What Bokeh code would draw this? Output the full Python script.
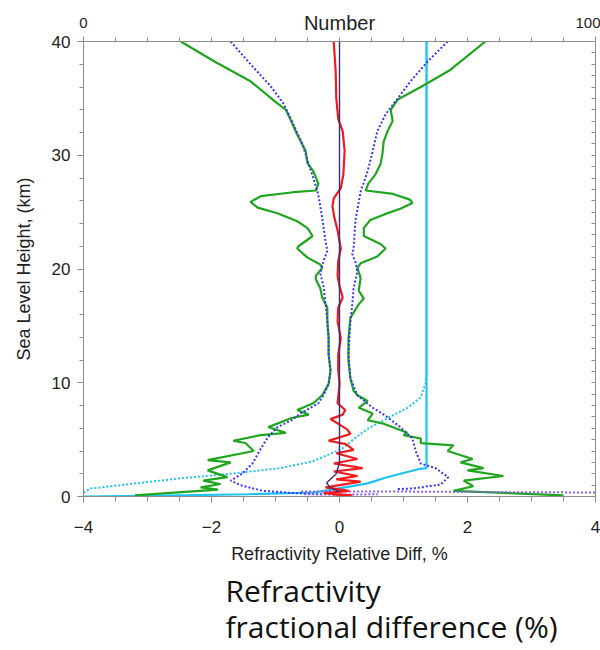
from bokeh.plotting import figure
from bokeh.models import Range1d, LinearAxis, FixedTicker, Title
from bokeh.embed import file_html
from bokeh.resources import INLINE

# ---------------- data ----------------
# Green solid, left branch (x %, height km)
green_left_x = [-2.48, -1.94, -1.39, -1.0, -0.84, -0.77, -0.66, -0.53, -0.5, -0.41, -0.33, -0.37, -0.72, -1.23, -1.39, -1.28, -0.97, -0.66, -0.5, -0.42, -0.64, -0.66, -0.5, -0.3, -0.27, -0.37, -0.37, -0.3, -0.27, -0.19, -0.19, -0.17, -0.17, -0.14, -0.17, -0.27, -0.41, -0.66, -0.48, -0.75, -1.11, -0.84, -1.23, -1.66, -1.47, -1.34, -2.06, -1.70, -2.06, -1.75, -2.13, -1.86, -2.17, -1.9, -3.2]
green_left_h = [40.0, 38.2, 36.5, 34.7, 34.0, 33.2, 31.8, 30.4, 29.3, 28.6, 27.5, 26.9, 26.75, 26.4, 25.9, 25.4, 24.9, 24.2, 23.6, 22.9, 22.0, 21.8, 21.0, 20.4, 20.1, 19.4, 19.1, 18.3, 17.5, 16.6, 15.4, 13.9, 12.5, 11.1, 9.9, 8.9, 8.2, 7.6, 7.2, 6.9, 6.1, 5.6, 5.4, 4.9, 4.7, 4.0, 3.2, 3.0, 2.3, 1.7, 1.4, 1.1, 0.8, 0.6, 0.1]

# Green solid, right branch
green_right_x = [2.28, 1.73, 1.27, 0.91, 0.8, 0.83, 0.75, 0.69, 0.67, 0.64, 0.56, 0.45, 0.41, 0.84, 1.1, 1.14, 0.95, 0.7, 0.48, 0.38, 0.38, 0.64, 0.72, 0.59, 0.33, 0.28, 0.33, 0.3, 0.38, 0.3, 0.17, 0.14, 0.14, 0.17, 0.22, 0.28, 0.44, 0.3, 0.52, 0.44, 0.69, 1.06, 1.0, 1.27, 1.27, 1.78, 1.69, 2.08, 1.89, 2.25, 2.0, 2.56, 1.94, 2.09, 1.78, 3.5]
green_right_h = [40.0, 37.5, 36.0, 34.9, 34.0, 33.0, 32.1, 31.2, 30.1, 29.2, 28.3, 27.5, 26.9, 26.6, 26.1, 25.8, 25.3, 24.8, 24.3, 23.6, 22.9, 22.2, 21.8, 21.1, 20.5, 20.1, 19.2, 18.1, 17.4, 16.9, 15.7, 13.9, 11.9, 10.4, 9.3, 8.9, 8.4, 7.8, 7.3, 6.7, 6.4, 5.6, 5.4, 5.1, 4.7, 4.5, 4.0, 3.3, 3.0, 2.5, 2.3, 1.8, 1.4, 0.9, 0.5, 0.1]

# Blue dotted, left branch
blue_left_x = [-1.7, -1.39, -1.08, -0.87, -0.72, -0.58, -0.48, -0.41, -0.33, -0.27, -0.22, -0.19, -0.25, -0.3, -0.25, -0.22, -0.19, -0.17, -0.17, -0.14, -0.17, -0.25, -0.33, -0.61, -0.75, -0.97, -1.12, -1.23, -1.36, -1.52, -1.7, -1.55, -1.2, -0.72, -0.25]
blue_left_h = [40.0, 38.0, 36.1, 34.5, 32.7, 31.0, 29.2, 28.0, 26.5, 24.5, 22.5, 21.6, 20.7, 19.6, 18.5, 17.0, 15.5, 14.0, 12.5, 11.0, 9.9, 8.9, 8.2, 7.3, 6.7, 6.1, 5.2, 4.2, 2.9, 2.0, 1.4, 1.0, 0.5, 0.3, 0.2]

# Blue dotted, right branch
blue_right_x = [1.69, 1.37, 1.11, 0.91, 0.72, 0.59, 0.52, 0.44, 0.33, 0.25, 0.22, 0.2, 0.25, 0.28, 0.22, 0.2, 0.17, 0.14, 0.17, 0.28, 0.52, 0.72, 0.95, 1.14, 1.19, 1.27, 1.5, 1.7, 1.58, 1.13, 0.9]
blue_right_h = [40.0, 38.2, 36.5, 35.0, 33.6, 32.1, 30.4, 28.6, 26.8, 24.3, 21.8, 21.3, 20.6, 19.8, 18.3, 16.9, 15.4, 12.5, 10.4, 8.9, 7.8, 7.1, 6.1, 5.1, 4.0, 2.9, 2.5, 1.7, 1.05, 0.7, 0.65]

# Violet dotted, lowest levels
violet_x = [-0.6, 0.5, 2.0, 4.0]
violet_h = [0.45, 0.45, 0.4, 0.35]
violet2_x = [-0.55, 0.0, 0.6]
violet2_h = [0.2, 0.15, 0.2]

# Red solid (mean)
red_x = [-0.09, -0.06, -0.05, -0.02, 0.05, 0.08, 0.06, 0.02, -0.09, -0.11, -0.08, -0.03, 0.02, -0.02, -0.03, 0.0, 0.05, -0.02, -0.03, 0.02, -0.02, -0.02, 0.0, -0.02, -0.03, 0.09, 0.05, -0.14, -0.05, 0.12, 0.17, 0.0, -0.17, 0.1, 0.22, -0.05, 0.28, -0.09, 0.36, -0.09, 0.28, -0.05, 0.33, 0.0, -0.22, 0.15, -0.25, 0.2, -0.1]
red_h = [40.0, 37.4, 35.0, 33.2, 32.1, 30.4, 28.3, 27.1, 26.2, 25.5, 24.5, 23.4, 21.8, 20.7, 19.4, 18.5, 17.5, 16.6, 15.4, 13.9, 12.5, 11.1, 9.9, 8.7, 8.2, 7.6, 7.2, 6.8, 6.5, 5.9, 5.5, 5.2, 4.9, 4.6, 4.1, 3.8, 3.3, 2.9, 2.5, 2.2, 1.8, 1.5, 1.3, 1.0, 0.8, 0.5, 0.3, 0.1, 0.0]

# Dark centre line (median)
dark_x = [0.0, 0.0, -0.05, -0.2, -0.15, 0.0]
dark_h = [40.0, 3.0, 2.0, 1.2, 0.8, 0.4]

# Number of profiles (top axis, 0-100)
num_solid_n = [67.0, 67.0, 65.4, 61.9, 58.6, 55.5, 51.6, 48.5, 44.9, 32.0, 12.5, 0.0]
num_solid_h = [40.0, 2.5, 2.4, 2.0, 1.6, 1.15, 0.85, 0.6, 0.35, 0.2, 0.05, 0.0]
num_dot_n = [0.0, 1.4, 9.2, 18.9, 28.7, 38.5, 44.9, 50.5, 53.5, 55.7, 59.4, 63.3, 65.8, 66.8, 67.0, 67.0]
num_dot_h = [0.35, 0.7, 1.1, 1.6, 2.0, 2.5, 3.1, 4.2, 5.3, 6.0, 6.9, 7.8, 8.7, 9.9, 11.0, 40.0]

x_ticks = [-4, -2, 0, 2, 4]
y_ticks = [0, 10, 20, 30, 40]
top_ticks = [0, 100]
caption = "Refractivity\nfractional difference (%)"

# ---------------- figure ----------------
AX = "#8c8c8c"
FONT = "Liberation Sans"

p = figure(width=600, height=650, output_backend="svg", toolbar_location=None,
           x_range=Range1d(-4, 4), y_range=Range1d(0, 40),
           min_border_left=83, min_border_right=5, min_border_top=41, min_border_bottom=154,
           x_axis_location="below", y_axis_location="left")
p.extra_x_ranges = {"num": Range1d(0, 100)}
p.grid.visible = False
p.outline_line_color = AX
p.background_fill_color = "white"
p.border_fill_color = "white"

xa = p.xaxis[0]
xa.ticker = FixedTicker(ticks=x_ticks, minor_ticks=[-4 + 0.5 * i for i in range(17)])
xa.axis_label = "Refractivity Relative Diff, %"
xa.axis_label_text_font = FONT
xa.axis_label_text_font_style = "normal"
xa.axis_label_text_font_size = "18px"
xa.axis_label_text_color = "#222222"
xa.axis_label_standoff = 8
xa.major_label_text_font = FONT
xa.major_label_text_font_size = "17px"
xa.major_label_text_color = "#222222"
xa.major_label_standoff = 18
xa.axis_line_color = AX
xa.major_tick_line_color = AX
xa.minor_tick_line_color = AX
xa.major_tick_in = 0
xa.major_tick_out = 6
xa.minor_tick_in = 0
xa.minor_tick_out = 5

ya = p.yaxis[0]
ya.ticker = FixedTicker(ticks=y_ticks, minor_ticks=list(range(0, 41, 2)))
ya.axis_label = "Sea Level Height, (km)"
ya.axis_label_text_font = FONT
ya.axis_label_text_font_style = "normal"
ya.axis_label_text_font_size = "18px"
ya.axis_label_text_color = "#222222"
ya.axis_label_standoff = 15
ya.major_label_text_font = FONT
ya.major_label_text_font_size = "17px"
ya.major_label_text_color = "#222222"
ya.major_label_standoff = 7
ya.axis_line_color = AX
ya.major_tick_line_color = AX
ya.minor_tick_line_color = AX
ya.major_tick_in = 0
ya.major_tick_out = 6
ya.minor_tick_in = 0
ya.minor_tick_out = 4

top = LinearAxis(x_range_name="num",
                 ticker=FixedTicker(ticks=top_ticks, minor_ticks=[6.25 * i for i in range(17)]))
top.axis_label = "Number"
top.axis_label_text_font = FONT
top.axis_label_text_font_style = "normal"
top.axis_label_text_font_size = "20px"
top.axis_label_text_color = "#222222"
top.axis_label_standoff = -19
top.major_label_text_font = FONT
top.major_label_text_font_size = "15px"
top.major_label_text_color = "#222222"
top.major_label_standoff = 9
top.axis_line_color = AX
top.major_tick_line_color = AX
top.minor_tick_line_color = AX
top.major_tick_in = 4
top.major_tick_out = 5
top.minor_tick_in = 0
top.minor_tick_out = 4
p.add_layout(top, "above")

right = LinearAxis(ticker=FixedTicker(ticks=[], minor_ticks=list(range(0, 41, 1))))
right.axis_line_color = AX
right.minor_tick_line_color = AX
right.minor_tick_in = 4
right.minor_tick_out = 0
right.major_label_standoff = 0
p.add_layout(right, "right")

# ---------------- lines ----------------
GREEN = "#1fa51f"
BLUE = "#3838f0"
RED = "#f21a1a"
CYAN = "#1ec3f5"

p.line(num_dot_n, num_dot_h, x_range_name="num", line_color=CYAN, line_width=2, line_dash="2 2")
p.line(num_solid_n, num_solid_h, x_range_name="num", line_color=CYAN, line_width=2.2)
p.line(green_left_x, green_left_h, line_color=GREEN, line_width=2.2)
p.line(green_right_x, green_right_h, line_color=GREEN, line_width=2.2)
p.line(blue_left_x, blue_left_h, line_color=BLUE, line_width=2, line_dash="2 2")
p.line(blue_right_x, blue_right_h, line_color=BLUE, line_width=2, line_dash="2 2")
p.line(violet_x, violet_h, line_color="#8a5cf0", line_width=2, line_dash="2 2")
p.line(violet2_x, violet2_h, line_color="#8a5cf0", line_width=2, line_dash="2 2")
p.line(red_x, red_h, line_color=RED, line_width=2.2)
p.line(dark_x, dark_h, line_color="#3a2c7c", line_width=1.4)

# ---------------- caption below the chart ----------------
cap = Title(text=caption, text_font="Open Sans", text_font_size="30px",
            text_font_style="normal", text_color="#111111", align="left",
            text_line_height=0.88, offset=142, standoff=4)
p.add_layout(cap, "below")

open("out.html", "w").write(file_html(p, INLINE))
